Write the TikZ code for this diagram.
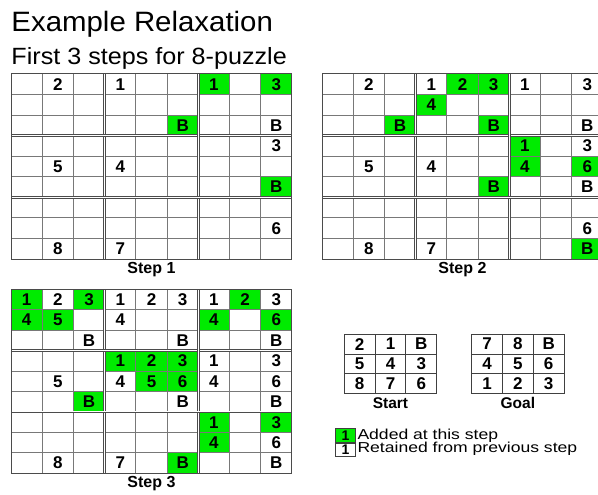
\documentclass[tikz,border=0pt]{standalone}
\usepackage{fontspec}
\setmainfont{Liberation Sans}
\newfontfamily\titlefont[FakeStretch=1.05]{Liberation Sans}
\newfontfamily\subfont[FakeStretch=1.07]{Liberation Sans}
\newfontfamily\legendfont[FakeStretch=1.22]{Liberation Sans}
\definecolor{lime}{RGB}{0,235,0}
\definecolor{gridgray}{RGB}{120,120,120}
\definecolor{bordergray}{RGB}{75,75,75}
\tikzset{
  cell/.style={inner sep=0pt, font=\bfseries\fontsize{17}{17}\selectfont},
  added/.style={fill=lime},
  kept/.style={},
  thinline/.style={draw=gridgray, line width=0.9pt},
  sepline/.style={draw=bordergray, line width=0.7pt, double=white, double distance=1pt},
  outerline/.style={draw=bordergray, line width=1pt},
  smallline/.style={draw=black!75, line width=0.9pt},
  steplabel/.style={font=\bfseries\fontsize{16}{16}\selectfont, inner sep=0pt},
  legendtext/.style={font=\legendfont\fontsize{14.4}{14.4}\selectfont, anchor=base west, inner sep=0pt},
  legbox/.style={draw=black!75, line width=0.9pt, inner sep=0pt, minimum width=20pt, minimum height=13.3pt,
    anchor=north west, font=\bfseries\fontsize{14}{14}\selectfont, text height=10pt, text depth=0pt},
}
% #1 name, #2 x0, #3 y0, #4 col width, #5 row height, #6 list r/c/text/style
\newcommand\biggrid[6]{%
  \foreach \ri/\ci/\tx/\sty in {#6} {
    \node[cell, \sty, minimum width=#4pt, minimum height=#5pt]
      (#1-\ri-\ci) at ({#2+(\ci+0.5)*#4},{#3+(\ri+0.5)*#5}) {\tx};
  }
  \foreach \i in {1,2,4,5,7,8} {
    \draw[thinline] ({#2+\i*#4},#3) -- ({#2+\i*#4},{#3+9*#5});
    \draw[thinline] (#2,{#3+\i*#5}) -- ({#2+9*#4},{#3+\i*#5});
  }
  \foreach \i in {3,6} {
    \draw[sepline] ({#2+\i*#4},#3) -- ({#2+\i*#4},{#3+9*#5});
    \draw[sepline] (#2,{#3+\i*#5}) -- ({#2+9*#4},{#3+\i*#5});
  }
  \draw[outerline] (#2,#3) rectangle ({#2+9*#4},{#3+9*#5});
}
% #1 name, #2 x0, #3 y0, #4 list r/c/text
\newcommand\smallgrid[4]{%
  \foreach \ri/\ci/\tx in {#4} {
    \node[cell, minimum width=30.8pt, minimum height=19.67pt]
      (#1-\ri-\ci) at ({#2+(\ci+0.5)*30.8},{#3+(\ri+0.5)*19.67}) {\tx};
  }
  \foreach \i in {1,2} {
    \draw[smallline] ({#2+\i*30.8},#3) -- ({#2+\i*30.8},{#3+3*19.67});
    \draw[smallline] (#2,{#3+\i*19.67}) -- ({#2+3*30.8},{#3+\i*19.67});
  }
  \draw[smallline] (#2,#3) rectangle ({#2+3*30.8},{#3+3*19.67});
}
\begin{document}
\begin{tikzpicture}[x=1pt, y=-1pt]
\useasboundingbox[fill=white] (0,0) rectangle (598,495);

\node[anchor=base west, inner sep=0pt, font=\titlefont\fontsize{28}{28}\selectfont]
  (title) at (11.3,31.7) {Example Relaxation};
\node[anchor=base west, inner sep=0pt, font=\subfont\fontsize{23.5}{23.5}\selectfont]
  (subtitle) at (11.3,64.3) {First 3 steps for 8-puzzle};

% Step 1
\biggrid{sa}{11}{74}{31.22}{20.56}{%
  0/1/2/kept, 0/3/1/kept, 0/6/1/added, 0/8/3/added,
  2/5/B/added, 2/8/B/kept,
  3/8/3/kept,
  4/1/5/kept, 4/3/4/kept,
  5/8/B/added,
  7/8/6/kept,
  8/1/8/kept, 8/3/7/kept}
\node[steplabel] (step1) at (151.5,269.5) {Step 1};

% Step 2
\biggrid{sb}{322}{74}{31.22}{20.56}{%
  0/1/2/kept, 0/3/1/kept, 0/4/2/added, 0/5/3/added, 0/6/1/kept, 0/8/3/kept,
  1/3/4/added,
  2/2/B/added, 2/5/B/added, 2/8/B/kept,
  3/6/1/added, 3/8/3/kept,
  4/1/5/kept, 4/3/4/kept, 4/6/4/added, 4/8/6/added,
  5/5/B/added, 5/8/B/kept,
  7/8/6/kept,
  8/1/8/kept, 8/3/7/kept, 8/8/B/added}
\node[steplabel] (step2) at (462.5,269.5) {Step 2};

% Step 3
\biggrid{sc}{11}{289.3}{31.22}{20.44}{%
  0/0/1/added, 0/1/2/kept, 0/2/3/added, 0/3/1/kept, 0/4/2/kept, 0/5/3/kept, 0/6/1/kept, 0/7/2/added, 0/8/3/kept,
  1/0/4/added, 1/1/5/added, 1/3/4/kept, 1/6/4/added, 1/8/6/added,
  2/2/B/kept, 2/5/B/kept, 2/8/B/kept,
  3/3/1/added, 3/4/2/added, 3/5/3/added, 3/6/1/kept, 3/8/3/kept,
  4/1/5/kept, 4/3/4/kept, 4/4/5/added, 4/5/6/added, 4/6/4/kept, 4/8/6/kept,
  5/2/B/added, 5/5/B/kept, 5/8/B/kept,
  6/6/1/added, 6/8/3/added,
  7/6/4/added, 7/8/6/kept,
  8/1/8/kept, 8/3/7/kept, 8/5/B/added, 8/8/B/kept}
\node[steplabel] (step3) at (151.5,484) {Step 3};

% Start and Goal
\smallgrid{st}{344.3}{334.3}{0/0/2, 0/1/1, 0/2/B, 1/0/5, 1/1/4, 1/2/3, 2/0/8, 2/1/7, 2/2/6}
\node[steplabel, font=\bfseries\fontsize{15.5}{15.5}\selectfont] (startlbl) at (390.5,403) {Start};
\smallgrid{go}{471.7}{334.3}{0/0/7, 0/1/8, 0/2/B, 1/0/4, 1/1/5, 1/2/6, 2/0/1, 2/1/2, 2/2/3}
\node[steplabel, font=\bfseries\fontsize{15.5}{15.5}\selectfont] (goallbl) at (517.9,403) {Goal};

% Legend
\node[legbox, fill=lime] (legadd) at (335,428.3) {1};
\node[legbox, fill=white] (legret) at (legadd.south west) {1};
\node[legendtext] (legaddtxt) at (357.3,439.0) {Added at this step};
\node[legendtext] (legrettxt) at (357.3,452.8) {Retained from previous step};
\end{tikzpicture}
\end{document}
